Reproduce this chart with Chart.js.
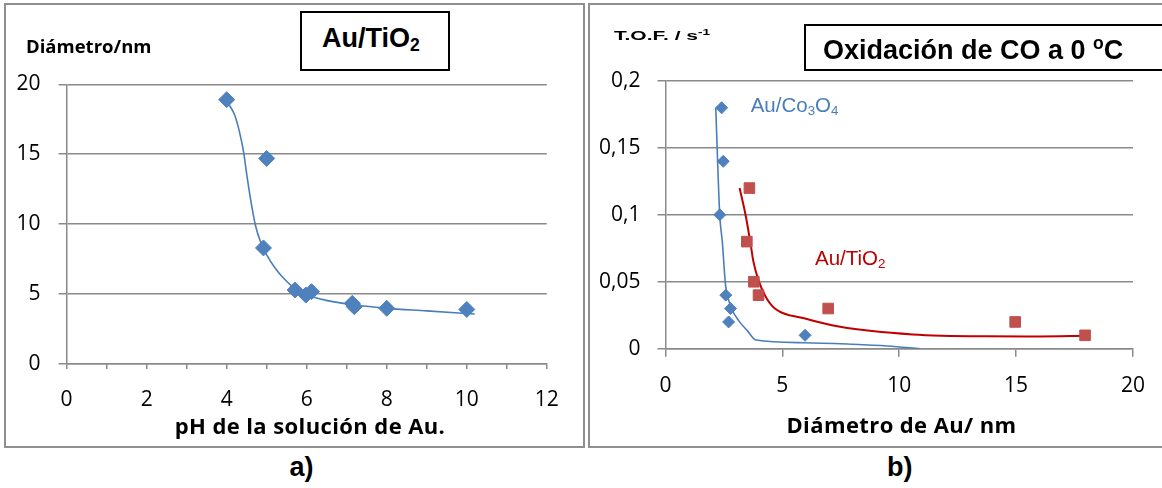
<!DOCTYPE html>
<html lang="es">
<head>
<meta charset="UTF-8">
<title>Tamaño de partícula y T.O.F.</title>
<script src="https://cdn.jsdelivr.net/npm/chart.js"></script>
<style>
  body { margin: 0; background: #fff; width: 1162px; height: 488px; position: relative; overflow: hidden; }
  .panel { position: absolute; border: 2px solid #8f8f8f; box-sizing: border-box; }
  .cv { position: absolute; top: 0; }
  .txt { position: absolute; line-height: 1; white-space: nowrap; color: #000; }
  .ax { font-family: 'Open Sans', sans-serif; font-weight: bold; }
  .ar { font-family: 'Liberation Sans', Arial, sans-serif; }
  .box { position: absolute; border: 2px solid #000; box-sizing: border-box; background: #fff; }
  sub, sup { font-size: 65%; line-height: 0; }
  sub { vertical-align: -0.2em; }
  sup { vertical-align: 0.55em; }
</style>
</head>
<body>
<div class="panel" style="left:3.5px; top:3px; width:581px; height:445px;"></div>
<div class="panel" style="left:588.3px; top:3px; width:600px; height:445px;"></div>

<div class="cv" style="left:0; width:585px; height:448px;"><canvas id="chartA"></canvas></div>
<div class="cv" style="left:585px; width:577px; height:448px;"><canvas id="chartB"></canvas></div>

<!-- panel a texts -->
<div class="txt ax" style="left:26px; top:37px; font-size:18.5px;">Diámetro/nm</div>
<div class="box" style="left:300px; top:10.7px; width:149.5px; height:60px;"></div>
<div class="txt ar" style="left:322px; top:25px; font-size:27px; font-weight:bold;">Au/TiO<sub>2</sub></div>
<div class="txt ax" style="left:110px; width:400px; text-align:center; top:413.5px; font-size:22px; letter-spacing:0.4px;">pH de la solución de Au.</div>
<div class="txt ar" style="left:251.5px; width:100px; text-align:center; top:453.6px; font-size:27px; font-weight:bold;">a)</div>

<!-- panel b texts -->
<div class="txt ar" style="left:614px; top:21.5px; font-size:21px; font-weight:bold; transform-origin:0 17.8px; transform:scaleY(0.62);">T.O.F. / s<sup>-1</sup></div>
<div class="box" style="left:804px; top:24px; width:362px; height:47px;"></div>
<div class="txt ar" style="left:823px; top:36.8px; font-size:27px; font-weight:bold;">Oxidación de CO a 0 <sup>o</sup>C</div>
<div class="txt ar" style="left:750.7px; top:94.5px; font-size:20.5px; color:#4A7EBB;">Au/Co<sub>3</sub>O<sub>4</sub></div>
<div class="txt ar" style="left:815px; top:248.3px; font-size:20.5px; color:#C00000;">Au/TiO<sub>2</sub></div>
<div class="txt ax" style="left:701.5px; width:400px; text-align:center; top:412.5px; font-size:22px; letter-spacing:0.4px;">Diámetro de Au/ nm</div>
<div class="txt ar" style="left:849.7px; width:100px; text-align:center; top:453.6px; font-size:27px; font-weight:bold;">b)</div>

<script>
// a) tamaño de partícula frente al pH de la disolución
const phA = [4.0, 5.0, 4.92, 5.71, 5.98, 6.12, 7.14, 7.19, 8.0, 10.0];
const diamA = [18.9, 14.7, 8.3, 5.29, 4.93, 5.17, 4.34, 4.1, 3.98, 3.9];
const fitPhA = [4.05, 4.2, 4.32, 4.42, 4.52, 4.62, 4.72, 4.85, 5.0, 5.2, 5.4, 5.73, 6.2, 7.12, 8.0, 9.0, 10.2];
const fitDiamA = [18.6, 17.8, 16.6, 15.2, 13.2, 11.4, 9.9, 8.7, 7.8, 6.9, 6.2, 5.35, 4.75, 4.25, 3.98, 3.8, 3.57];
const ticksA_x = [0, 2, 4, 6, 8, 10, 12];

// b) T.O.F. frente al diámetro de Au
const coDiam = [2.4, 2.47, 2.32, 2.58, 2.78, 2.7, 5.97];
const coTof = [0.18, 0.14, 0.10, 0.04, 0.03, 0.02, 0.01];
const tiDiam = [3.59, 3.48, 3.78, 3.98, 6.96, 14.96, 17.95];
const tiTof = [0.12, 0.08, 0.05, 0.04, 0.03, 0.02, 0.01];
const coFitDiam = [2.15, 2.32, 2.43, 2.56, 2.62, 2.8, 3.13, 3.5, 3.87, 5.93, 8.0, 9.5, 10.9];
const coFitTof = [0.18, 0.10, 0.08, 0.049, 0.042, 0.031, 0.021, 0.0135, 0.0065, 0.0045, 0.0033, 0.002, 0.0];
const tiFitDiam = [3.17, 3.44, 3.67, 3.75, 3.98, 4.28, 4.68, 5.93, 7.47, 10.57, 13.7, 16.0, 17.95];
const tiFitTof = [0.12, 0.0986, 0.075, 0.066, 0.051, 0.039, 0.030, 0.0227, 0.0164, 0.0107, 0.0093, 0.0092, 0.0097];

const BLUE = '#4F81BD';
const BLUE_LINE = '#4A7EBB';
const RED = '#C0504D';
const RED_LINE = '#C00000';
const GRID = '#8a8a8a';

Chart.defaults.font.family = "'Open Sans', sans-serif";
Chart.defaults.font.size = 21;
Chart.defaults.color = '#000';

const xy = (xs, ys) => xs.map((x, i) => ({ x: x, y: ys[i] }));

function markers(xs, ys, style, radius, color) {
  return {
    data: xy(xs, ys),
    showLine: false,
    pointStyle: style,
    pointRadius: radius,
    pointBackgroundColor: color,
    pointBorderColor: color,
    pointBorderWidth: 1
  };
}

function curve(xs, ys, color, width) {
  return {
    data: xy(xs, ys),
    showLine: true,
    borderColor: color,
    borderWidth: width,
    pointRadius: 0,
    cubicInterpolationMode: 'monotone'
  };
}

const common = {
  responsive: true,
  maintainAspectRatio: false,
  animation: false,
  plugins: { legend: { display: false }, tooltip: { enabled: false } }
};

new Chart(document.getElementById('chartA'), {
  type: 'scatter',
  data: {
    datasets: [
      markers(phA, diamA, 'rectRot', 8, BLUE),
      curve(fitPhA, fitDiamA, BLUE_LINE, 1.6)
    ]
  },
  options: {
    ...common,
    layout: { padding: { left: 4.6, top: 84.3, right: 38.2, bottom: 34 } },
    scales: {
      x: {
        type: 'linear', min: 0, max: 12,
        afterFit: s => { s.height = 50; },
        border: { color: GRID, width: 1.5 },
        grid: { drawOnChartArea: false, color: GRID, lineWidth: 1.5, tickLength: 5 },
        ticks: {
          stepSize: 1, autoSkip: false, maxRotation: 0, padding: 18,
          callback: v => ticksA_x.includes(v) ? String(v) : ''
        }
      },
      y: {
        min: 0, max: 20,
        afterFit: s => { s.width = 62; },
        border: { color: GRID, width: 1.5 },
        grid: { color: GRID, lineWidth: 1.5, tickLength: 8 },
        ticks: { stepSize: 5, padding: 18 }
      }
    }
  }
});

new Chart(document.getElementById('chartB'), {
  type: 'scatter',
  data: {
    datasets: [
      markers(coDiam, coTof, 'rectRot', 6, BLUE),
      markers(tiDiam, tiTof, 'rect', 7.5, RED),
      curve(coFitDiam, coFitTof, BLUE_LINE, 1.6),
      curve(tiFitDiam, tiFitTof, RED_LINE, 2)
    ]
  },
  options: {
    ...common,
    layout: { padding: { left: 2.5, top: 81, right: 23.7, bottom: 49.3 } },
    scales: {
      x: {
        type: 'linear', min: 0, max: 20,
        afterFit: s => { s.height = 50; },
        border: { color: GRID, width: 1.5 },
        grid: { drawOnChartArea: false, color: GRID, lineWidth: 1.5, tickLength: 8 },
        ticks: { stepSize: 5, maxRotation: 0, padding: 17 }
      },
      y: {
        min: 0, max: 0.2,
        afterFit: s => { s.width = 78; },
        border: { color: GRID, width: 1.5 },
        grid: { color: GRID, lineWidth: 1.5, tickLength: 8 },
        ticks: {
          stepSize: 0.05, padding: 17,
          callback: v => v === 0 ? '0' : String(+v.toFixed(2)).replace('.', ',')
        }
      }
    }
  }
});
</script>
</body>
</html>
